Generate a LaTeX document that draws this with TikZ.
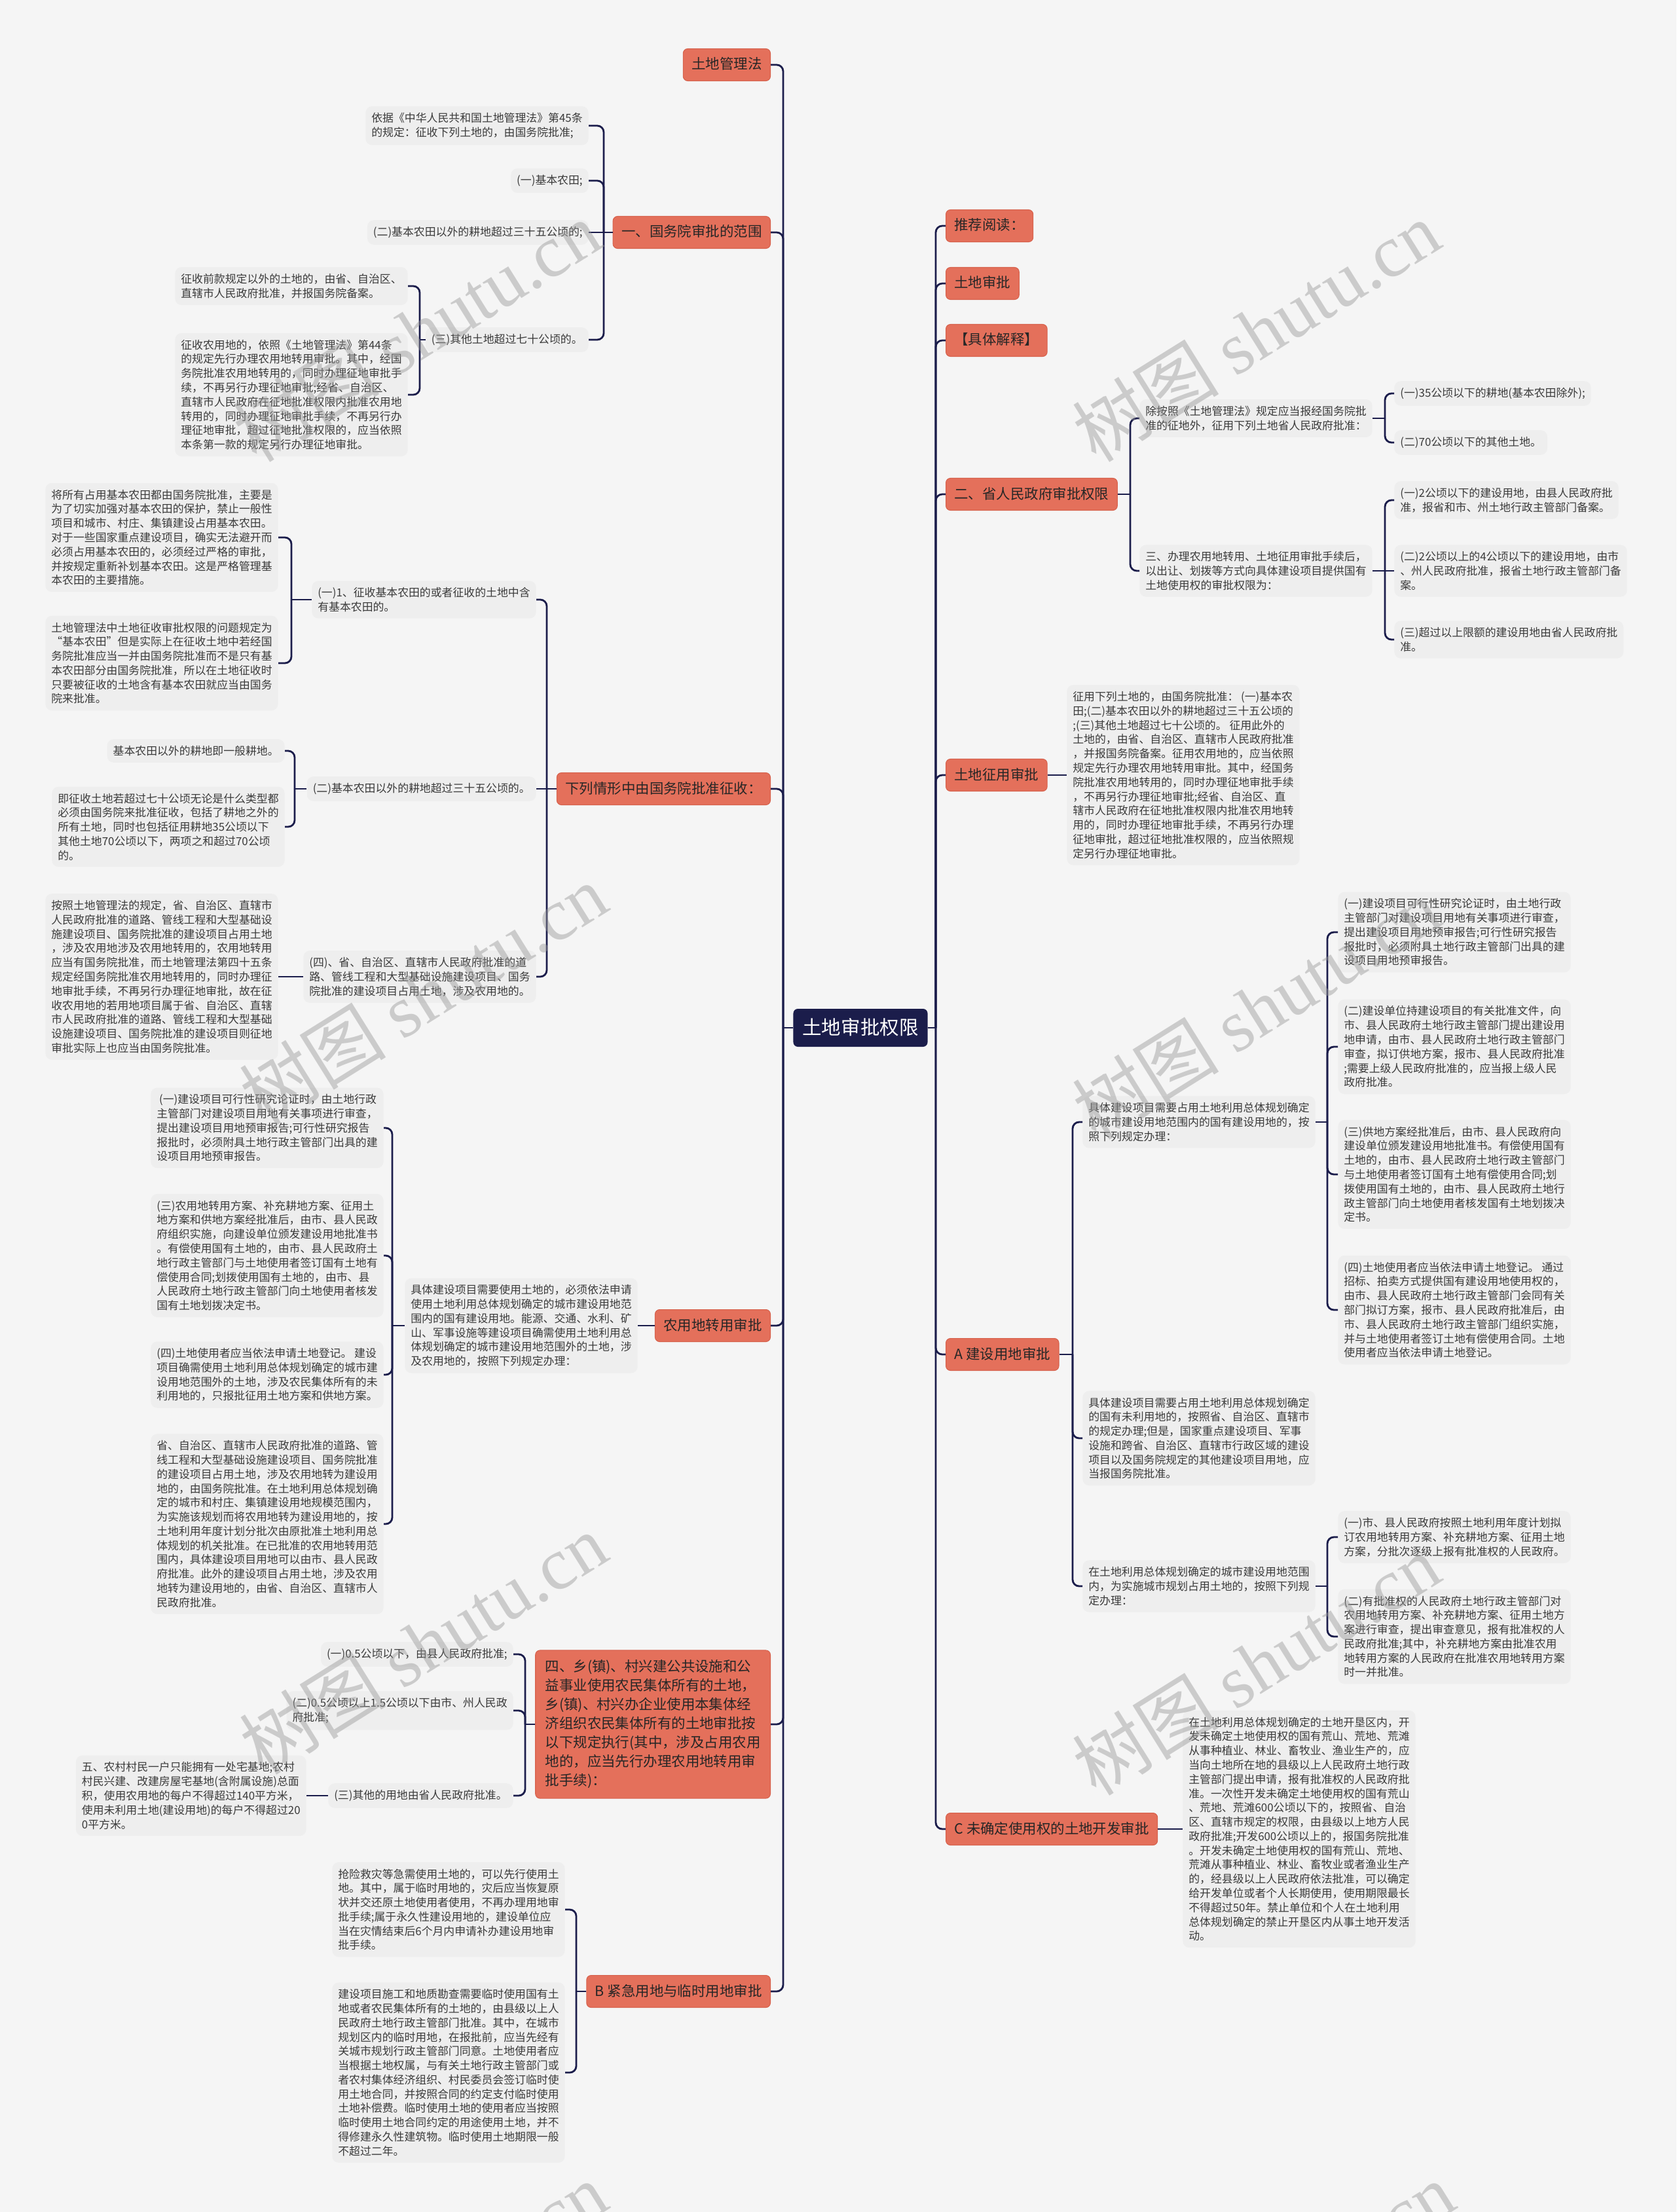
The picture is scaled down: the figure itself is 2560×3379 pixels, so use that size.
\documentclass[tikz,border=0pt]{standalone}
\usepackage{fontspec}
\setmainfont{Noto Sans CJK SC}
\newfontfamily\wmlatin{Liberation Serif}
\definecolor{bgc}{HTML}{F5F5F5}
\definecolor{notec}{HTML}{EEEEEE}
\definecolor{topicc}{HTML}{E4705B}
\definecolor{topicd}{HTML}{D6614C}
\definecolor{navy}{HTML}{1B1D4B}
\definecolor{inkc}{HTML}{3A3A3A}
\begin{document}
\begin{tikzpicture}[x=0.02cm,y=-0.02cm,
 link/.style={draw=navy,line width=1.6pt,rounded corners=0.2cm},
 rootbox/.style={fill=navy,text=white,rounded corners=0.14cm,inner xsep=0.28cm,inner ysep=0.28cm,text height=0.5cm,text depth=0.1cm,font=\fontsize{16.8pt}{20pt}\selectfont},
 topic/.style={fill=topicc,draw=topicd,line width=0.6pt,text=black!85,rounded corners=0.14cm,inner xsep=0.26cm,inner ysep=0.27cm,text height=0.36cm,text depth=0.08cm,font=\fontsize{12.2pt}{16.5pt}\selectfont},
 bigtopic/.style={fill=topicc,draw=topicd,line width=0.6pt,text=black!85,rounded corners=0.14cm,inner xsep=0.3cm,inner ysep=0.3cm,align=left,font=\fontsize{12.2pt}{16.5pt}\selectfont},
 note/.style={fill=notec,text=inkc,rounded corners=0.2cm,inner xsep=0.18cm,inner ysep=0.2cm,align=left,font=\fontsize{9.6pt}{12.4pt}\selectfont},
 wm/.style={text=black!40,opacity=0.45,rotate=32,font=\fontsize{64pt}{64pt}\selectfont}]
\useasboundingbox (0,0) rectangle (2560,3379);
\fill[bgc] (0,0) rectangle (2560,3379);
\clip (0,0) rectangle (2560,3379);

\node[rootbox] (root) at (1314,1570) {土地审批权限};

\node[topic,anchor=east] (law) at (1177,99) {土地管理法};
\node[topic,anchor=east] (gwy) at (1177,355) {一、国务院审批的范围};
\node[topic,anchor=east] (xlqx) at (1177,1205) {下列情形中由国务院批准征收：};
\node[topic,anchor=east] (nyd) at (1177,2025) {农用地转用审批};
\node[bigtopic,anchor=east] (xz) at (1177,2634) {四、乡(镇)、村兴建公共设施和公\\益事业使用农民集体所有的土地，\\乡(镇)、村兴办企业使用本集体经\\济组织农民集体所有的土地审批按\\以下规定执行(其中，涉及占用农用\\地的，应当先行办理农用地转用审\\批手续)：};
\node[topic,anchor=east] (jjyd) at (1177,3042) {B 紧急用地与临时用地审批};

\node[topic,anchor=west] (tjyd) at (1444,345) {推荐阅读：};
\node[topic,anchor=west] (tdsp) at (1444,433) {土地审批};
\node[topic,anchor=west] (jtjs) at (1444,520) {【具体解释】};
\node[topic,anchor=west] (sheng) at (1444,755) {二、省人民政府审批权限};
\node[topic,anchor=west] (zy) at (1444,1184) {土地征用审批};
\node[topic,anchor=west] (jsyd) at (1444,2069) {A 建设用地审批};
\node[topic,anchor=west] (wqd) at (1444,2794) {C 未确定使用权的土地开发审批};

\node[note,anchor=east] (g1a) at (899,192) {依据《中华人民共和国土地管理法》第45条\\的规定：征收下列土地的，由国务院批准;};
\node[note,anchor=east] (g1b) at (899,276) {(一)基本农田;};
\node[note,anchor=east] (g1c) at (899,355) {(二)基本农田以外的耕地超过三十五公顷的;};
\node[note,anchor=east] (g1d) at (899,519) {(三)其他土地超过七十公顷的。};
\node[note,anchor=east] (g1d1) at (623,437) {征收前款规定以外的土地的，由省、自治区、\\直辖市人民政府批准，并报国务院备案。};
\node[note,anchor=east] (g1d2) at (623,603) {征收农用地的，依照《土地管理法》第44条\\的规定先行办理农用地转用审批。其中，经国\\务院批准农用地转用的，同时办理征地审批手\\续，不再另行办理征地审批;经省、自治区、\\直辖市人民政府在征地批准权限内批准农用地\\转用的，同时办理征地审批手续，不再另行办\\理征地审批，超过征地批准权限的，应当依照\\本条第一款的规定另行办理征地审批。};

\node[note,anchor=east] (x1) at (819,916) {(一)1、征收基本农田的或者征收的土地中含\\有基本农田的。};
\node[note,anchor=east] (x1a) at (425,821) {将所有占用基本农田都由国务院批准，主要是\\为了切实加强对基本农田的保护，禁止一般性\\项目和城市、村庄、集镇建设占用基本农田。\\对于一些国家重点建设项目，确实无法避开而\\必须占用基本农田的，必须经过严格的审批，\\并按规定重新补划基本农田。这是严格管理基\\本农田的主要措施。};
\node[note,anchor=east] (x1b) at (425,1013) {土地管理法中土地征收审批权限的问题规定为\\“基本农田”但是实际上在征收土地中若经国\\务院批准应当一并由国务院批准而不是只有基\\本农田部分由国务院批准，所以在土地征收时\\只要被征收的土地含有基本农田就应当由国务\\院来批准。};
\node[note,anchor=east] (x2) at (819,1205) {(二)基本农田以外的耕地超过三十五公顷的。};
\node[note,anchor=east] (x2a) at (435,1147) {基本农田以外的耕地即一般耕地。};
\node[note,anchor=east] (x2b) at (435,1263) {即征收土地若超过七十公顷无论是什么类型都\\必须由国务院来批准征收，包括了耕地之外的\\所有土地，同时也包括征用耕地35公顷以下\\其他土地70公顷以下，两项之和超过70公顷\\的。};
\node[note,anchor=east] (x4) at (819,1492) {(四)、省、自治区、直辖市人民政府批准的道\\路、管线工程和大型基础设施建设项目、国务\\院批准的建设项目占用土地，涉及农用地的。};
\node[note,anchor=east] (x4a) at (425,1492) {按照土地管理法的规定，省、自治区、直辖市\\人民政府批准的道路、管线工程和大型基础设\\施建设项目、国务院批准的建设项目占用土地\\，涉及农用地涉及农用地转用的，农用地转用\\应当有国务院批准，而土地管理法第四十五条\\规定经国务院批准农用地转用的，同时办理征\\地审批手续，不再另行办理征地审批，故在征\\收农用地的若用地项目属于省、自治区、直辖\\市人民政府批准的道路、管线工程和大型基础\\设施建设项目、国务院批准的建设项目则征地\\审批实际上也应当由国务院批准。};

\node[note,anchor=east] (n0) at (974,2025) {具体建设项目需要使用土地的，必须依法申请\\使用土地利用总体规划确定的城市建设用地范\\围内的国有建设用地。能源、交通、水利、矿\\山、军事设施等建设项目确需使用土地利用总\\体规划确定的城市建设用地范围外的土地，涉\\及农用地的，按照下列规定办理：};
\node[note,anchor=east] (n1) at (586,1723) {\ (一)建设项目可行性研究论证时，由土地行政\\主管部门对建设项目用地有关事项进行审查，\\提出建设项目用地预审报告;可行性研究报告\\报批时，必须附具土地行政主管部门出具的建\\设项目用地预审报告。};
\node[note,anchor=east] (n2) at (586,1918) {(三)农用地转用方案、补充耕地方案、征用土\\地方案和供地方案经批准后，由市、县人民政\\府组织实施，向建设单位颁发建设用地批准书\\。有偿使用国有土地的，由市、县人民政府土\\地行政主管部门与土地使用者签订国有土地有\\偿使用合同;划拨使用国有土地的，由市、县\\人民政府土地行政主管部门向土地使用者核发\\国有土地划拨决定书。};
\node[note,anchor=east] (n3) at (586,2100) {(四)土地使用者应当依法申请土地登记。 建设\\项目确需使用土地利用总体规划确定的城市建\\设用地范围外的土地，涉及农民集体所有的未\\利用地的，只报批征用土地方案和供地方案。};
\node[note,anchor=east] (n4) at (586,2328) {省、自治区、直辖市人民政府批准的道路、管\\线工程和大型基础设施建设项目、国务院批准\\的建设项目占用土地，涉及农用地转为建设用\\地的，由国务院批准。在土地利用总体规划确\\定的城市和村庄、集镇建设用地规模范围内，\\为实施该规划而将农用地转为建设用地的，按\\土地利用年度计划分批次由原批准土地利用总\\体规划的机关批准。在已批准的农用地转用范\\围内，具体建设项目用地可以由市、县人民政\\府批准。此外的建设项目占用土地，涉及农用\\地转为建设用地的，由省、自治区、直辖市人\\民政府批准。};

\node[note,anchor=east] (z1) at (784,2527) {(一)0.5公顷以下，由县人民政府批准;};
\node[note,anchor=east] (z2) at (784,2613) {(二)0.5公顷以上1.5公顷以下由市、州人民政\\府批准;};
\node[note,anchor=east] (z3) at (784,2743) {(三)其他的用地由省人民政府批准。};
\node[note,anchor=east] (z3a) at (468,2743) {五、农村村民一户只能拥有一处宅基地;农村\\村民兴建、改建房屋宅基地(含附属设施)总面\\积，使用农用地的每户不得超过140平方米，\\使用未利用土地(建设用地)的每户不得超过20\\0平方米。};

\node[note,anchor=east] (b1) at (863,2917) {抢险救灾等急需使用土地的，可以先行使用土\\地。其中，属于临时用地的，灾后应当恢复原\\状并交还原土地使用者使用，不再办理用地审\\批手续;属于永久性建设用地的，建设单位应\\当在灾情结束后6个月内申请补办建设用地审\\批手续。};
\node[note,anchor=east] (b2) at (863,3166) {建设项目施工和地质勘查需要临时使用国有土\\地或者农民集体所有的土地的，由县级以上人\\民政府土地行政主管部门批准。其中，在城市\\规划区内的临时用地，在报批前，应当先经有\\关城市规划行政主管部门同意。土地使用者应\\当根据土地权属，与有关土地行政主管部门或\\者农村集体经济组织、村民委员会签订临时使\\用土地合同，并按照合同的约定支付临时使用\\土地补偿费。临时使用土地的使用者应当按照\\临时使用土地合同约定的用途使用土地，并不\\得修建永久性建筑物。临时使用土地期限一般\\不超过二年。};

\node[note,anchor=west] (s1) at (1740,639) {除按照《土地管理法》规定应当报经国务院批\\准的征地外，征用下列土地省人民政府批准：};
\node[note,anchor=west] (s1a) at (2129,601) {(一)35公顷以下的耕地(基本农田除外);};
\node[note,anchor=west] (s1b) at (2129,676) {(二)70公顷以下的其他土地。};
\node[note,anchor=west] (s2) at (1740,872) {三、办理农用地转用、土地征用审批手续后，\\以出让、划拨等方式向具体建设项目提供国有\\土地使用权的审批权限为：};
\node[note,anchor=west] (s2a) at (2129,764) {(一)2公顷以下的建设用地，由县人民政府批\\准，报省和市、州土地行政主管部门备案。};
\node[note,anchor=west] (s2b) at (2129,872) {(二)2公顷以上的4公顷以下的建设用地，由市\\、州人民政府批准，报省土地行政主管部门备\\案。};
\node[note,anchor=west] (s2c) at (2129,977) {(三)超过以上限额的建设用地由省人民政府批\\准。};

\node[note,anchor=west] (zy1) at (1629,1184) {征用下列土地的，由国务院批准：\ (一)基本农\\田;(二)基本农田以外的耕地超过三十五公顷的\\;(三)其他土地超过七十公顷的。\ 征用此外的\\土地的，由省、自治区、直辖市人民政府批准\\，并报国务院备案。征用农用地的，应当依照\\规定先行办理农用地转用审批。其中，经国务\\院批准农用地转用的，同时办理征地审批手续\\，不再另行办理征地审批;经省、自治区、直\\辖市人民政府在征地批准权限内批准农用地转\\用的，同时办理征地审批手续，不再另行办理\\征地审批，超过征地批准权限的，应当依照规\\定另行办理征地审批。};

\node[note,anchor=west] (a1) at (1653,1714) {具体建设项目需要占用土地利用总体规划确定\\的城市建设用地范围内的国有建设用地的，按\\照下列规定办理：};
\node[note,anchor=west] (a1a) at (2043,1424) {(一)建设项目可行性研究论证时，由土地行政\\主管部门对建设项目用地有关事项进行审查，\\提出建设项目用地预审报告;可行性研究报告\\报批时，必须附具土地行政主管部门出具的建\\设项目用地预审报告。};
\node[note,anchor=west] (a1b) at (2043,1599) {(二)建设单位持建设项目的有关批准文件，向\\市、县人民政府土地行政主管部门提出建设用\\地申请，由市、县人民政府土地行政主管部门\\审查，拟订供地方案，报市、县人民政府批准\\;需要上级人民政府批准的，应当报上级人民\\政府批准。};
\node[note,anchor=west] (a1c) at (2043,1794) {(三)供地方案经批准后，由市、县人民政府向\\建设单位颁发建设用地批准书。有偿使用国有\\土地的，由市、县人民政府土地行政主管部门\\与土地使用者签订国有土地有偿使用合同;划\\拨使用国有土地的，由市、县人民政府土地行\\政主管部门向土地使用者核发国有土地划拨决\\定书。};
\node[note,anchor=west] (a1d) at (2043,2001) {(四)土地使用者应当依法申请土地登记。 通过\\招标、拍卖方式提供国有建设用地使用权的，\\由市、县人民政府土地行政主管部门会同有关\\部门拟订方案，报市、县人民政府批准后，由\\市、县人民政府土地行政主管部门组织实施，\\并与土地使用者签订土地有偿使用合同。土地\\使用者应当依法申请土地登记。};
\node[note,anchor=west] (a2) at (1653,2197) {具体建设项目需要占用土地利用总体规划确定\\的国有未利用地的，按照省、自治区、直辖市\\的规定办理;但是，国家重点建设项目、军事\\设施和跨省、自治区、直辖市行政区域的建设\\项目以及国务院规定的其他建设项目用地，应\\当报国务院批准。};
\node[note,anchor=west] (a3) at (1653,2423) {在土地利用总体规划确定的城市建设用地范围\\内，为实施城市规划占用土地的，按照下列规\\定办理：};
\node[note,anchor=west] (a3a) at (2043,2348) {(一)市、县人民政府按照土地利用年度计划拟\\订农用地转用方案、补充耕地方案、征用土地\\方案，分批次逐级上报有批准权的人民政府。};
\node[note,anchor=west] (a3b) at (2043,2500) {(二)有批准权的人民政府土地行政主管部门对\\农用地转用方案、补充耕地方案、征用土地方\\案进行审查，提出审查意见，报有批准权的人\\民政府批准;其中，补充耕地方案由批准农用\\地转用方案的人民政府在批准农用地转用方案\\时一并批准。};

\node[note,anchor=west] (c1) at (1806,2794) {在土地利用总体规划确定的土地开垦区内，开\\发未确定土地使用权的国有荒山、荒地、荒滩\\从事种植业、林业、畜牧业、渔业生产的，应\\当向土地所在地的县级以上人民政府土地行政\\主管部门提出申请，报有批准权的人民政府批\\准。一次性开发未确定土地使用权的国有荒山\\、荒地、荒滩600公顷以下的，按照省、自治\\区、直辖市规定的权限，由县级以上地方人民\\政府批准;开发600公顷以上的，报国务院批准\\。开发未确定土地使用权的国有荒山、荒地、\\荒滩从事种植业、林业、畜牧业或者渔业生产\\的，经县级以上人民政府依法批准，可以确定\\给开发单位或者个人长期使用，使用期限最长\\不得超过50年。禁止单位和个人在土地利用\\总体规划确定的禁止开垦区内从事土地开发活\\动。};

\draw[link] (root.west) -- (1196,1570) coordinate (spl);
\foreach \n in {law,gwy,xlqx,nyd,xz,jjyd} \draw[link] (spl) |- (\n.east);
\draw[link] (root.east) -- (1429,1570) coordinate (spr);
\foreach \n in {tjyd,tdsp,jtjs,sheng,zy,jsyd,wqd} \draw[link] (spr) |- (\n.west);

\draw[link] (gwy.west) -- (922,355) coordinate (sp1); \draw[link] (sp1) -- (g1c.east);
\foreach \n in {g1a,g1b,g1d} \draw[link] (sp1) |- (\n.east);
\draw[link] (g1d.west) -- (641,519) coordinate (sp13);
\foreach \n in {g1d1,g1d2} \draw[link] (sp13) |- (\n.east);
\draw[link] (xlqx.west) -- (835,1205) coordinate (sp2); \draw[link] (sp2) -- (x2.east);
\foreach \n in {x1,x4} \draw[link] (sp2) |- (\n.east);
\draw[link] (x1.west) -- (445,916) coordinate (sp21);
\foreach \n in {x1a,x1b} \draw[link] (sp21) |- (\n.east);
\draw[link] (x2.west) -- (450,1205) coordinate (sp22);
\foreach \n in {x2a,x2b} \draw[link] (sp22) |- (\n.east);
\draw[link] (x4.west) -- (x4a.east);
\draw[link] (nyd.west) -- (n0.east);
\draw[link] (n0.west) -- (599,2025) coordinate (sp3);
\foreach \n in {n1,n2,n3,n4} \draw[link] (sp3) |- (\n.east);
\draw[link] (xz.west) -- (802,2634) coordinate (sp4);
\foreach \n in {z1,z2,z3} \draw[link] (sp4) |- (\n.east);
\draw[link] (z3.west) -- (z3a.east);
\draw[link] (jjyd.west) -- (880,3042) coordinate (sp5);
\foreach \n in {b1,b2} \draw[link] (sp5) |- (\n.east);

\draw[link] (sheng.east) -- (1726,755) coordinate (sp6);
\foreach \n in {s1,s2} \draw[link] (sp6) |- (\n.west);
\draw[link] (s1.east) -- (2115,639) coordinate (sp61);
\foreach \n in {s1a,s1b} \draw[link] (sp61) |- (\n.west);
\draw[link] (s2.east) -- (2115,872) coordinate (sp62); \draw[link] (sp62) -- (s2b.west);
\foreach \n in {s2a,s2c} \draw[link] (sp62) |- (\n.west);
\draw[link] (zy.east) -- (zy1.west);
\draw[link] (jsyd.east) -- (1638,2069) coordinate (sp7);
\foreach \n in {a1,a2,a3} \draw[link] (sp7) |- (\n.west);
\draw[link] (a1.east) -- (2027,1714) coordinate (sp71);
\foreach \n in {a1a,a1b,a1c,a1d} \draw[link] (sp71) |- (\n.west);
\draw[link] (a3.east) -- (2027,2423) coordinate (sp73);
\foreach \n in {a3a,a3b} \draw[link] (sp73) |- (\n.west);
\draw[link] (wqd.east) -- (c1.west);

\foreach \wx/\wy in {636/506,1918/506,646/1519,1918/1541,646/2511,1918/2543,646/3502,1940/3502}
  \node[wm] (wm-\wx-\wy) at (\wx,\wy) {树图 {\wmlatin shutu.cn}};
\end{tikzpicture}
\end{document}
